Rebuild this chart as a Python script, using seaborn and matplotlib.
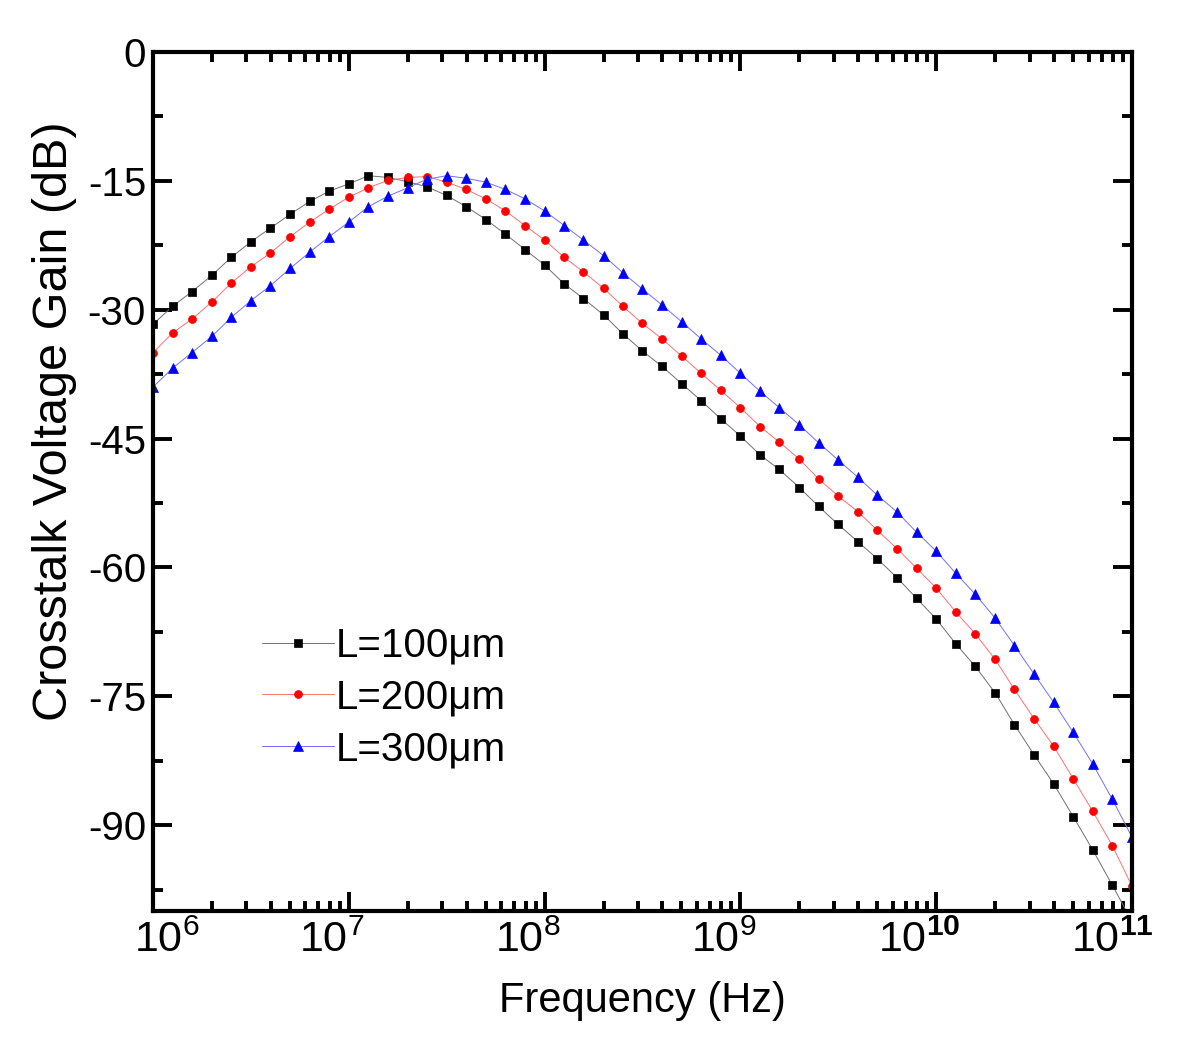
import matplotlib
matplotlib.use("Agg")
import matplotlib.pyplot as plt
import matplotlib.transforms as mtransforms
import seaborn as sns
import pandas as pd
from matplotlib.ticker import FixedLocator, FixedFormatter, LogLocator, NullFormatter, MultipleLocator

# frequency sweep, 10 points per decade
freq = [1.0e6, 1.26e6, 1.58e6, 2.0e6, 2.51e6, 3.16e6, 3.98e6, 5.01e6, 6.31e6, 7.94e6,
        1.0e7, 1.26e7, 1.58e7, 2.0e7, 2.51e7, 3.16e7, 3.98e7, 5.01e7, 6.31e7, 7.94e7,
        1.0e8, 1.26e8, 1.58e8, 2.0e8, 2.51e8, 3.16e8, 3.98e8, 5.01e8, 6.31e8, 7.94e8,
        1.0e9, 1.26e9, 1.58e9, 2.0e9, 2.51e9, 3.16e9, 3.98e9, 5.01e9, 6.31e9, 7.94e9,
        1.0e10, 1.26e10, 1.58e10, 2.0e10, 2.51e10, 3.16e10, 3.98e10, 5.01e10, 6.31e10, 7.94e10,
        1.0e11]

gain_100 = [-31.7, -29.6, -27.9, -26.0, -23.9, -22.1, -20.5, -18.9, -17.4, -16.2,
            -15.35, -14.4, -14.6, -15.1, -15.7, -16.7, -18.0, -19.5, -21.2, -23.0,
            -24.8, -27.0, -28.7, -30.6, -32.8, -34.8, -36.6, -38.6, -40.6, -42.7,
            -44.7, -46.9, -48.6, -50.7, -52.9, -55.0, -57.0, -59.0, -61.2, -63.6,
            -66.0, -68.9, -71.5, -74.6, -78.3, -81.8, -85.2, -89.0, -92.9, -97.0,
            -101.2]

gain_200 = [-35.0, -32.7, -31.1, -29.1, -26.9, -25.0, -23.4, -21.5, -19.8, -18.3,
            -16.9, -15.8, -14.95, -14.6, -14.5, -15.15, -16.0, -17.1, -18.5, -20.2,
            -21.9, -23.9, -25.6, -27.5, -29.6, -31.6, -33.4, -35.4, -37.4, -39.4,
            -41.4, -43.6, -45.4, -47.4, -49.7, -51.7, -53.5, -55.7, -57.8, -60.1,
            -62.4, -65.2, -67.7, -70.7, -74.2, -77.6, -80.8, -84.6, -88.4, -92.4,
            -97.1]

gain_300 = [-39.0, -36.8, -35.0, -33.1, -30.9, -28.95, -27.2, -25.2, -23.3, -21.5,
            -19.8, -18.0, -16.8, -15.8, -14.8, -14.4, -14.7, -15.15, -16.0, -17.1,
            -18.5, -20.2, -21.9, -23.7, -25.7, -27.6, -29.45, -31.4, -33.4, -35.3,
            -37.4, -39.5, -41.4, -43.4, -45.5, -47.5, -49.5, -51.6, -53.55, -55.9,
            -58.1, -60.7, -63.1, -65.9, -69.1, -72.4, -75.7, -79.2, -82.9, -87.0,
            -91.4]

labels = ["L=100\u03bcm", "L=200\u03bcm", "L=300\u03bcm"]
marker_colors = ["black", "red", "blue"]
line_colors = ["#707070", "#ff7070", "#7070ff"]
markers = ["s", "o", "^"]
msizes = [5.4, 5.7, 6.8]

x_ticks = [1e6, 1e7, 1e8, 1e9, 1e10, 1e11]
x_ticklabels = [r"$\mathrm{10^{6}}$", r"$\mathrm{10^{7}}$", r"$\mathrm{10^{8}}$",
                r"$\mathrm{10^{9}}$", r"$\mathrm{10^{\mathbf{10}}}$", r"$\mathrm{10^{\mathbf{11}}}$"]
y_ticks = [-90, -75, -60, -45, -30, -15, 0]

sns.set_style("ticks")
plt.rcParams["font.family"] = ["Liberation Sans", "DejaVu Sans"]
plt.rcParams["mathtext.fontset"] = "custom"
plt.rcParams["mathtext.rm"] = "Liberation Sans"
plt.rcParams["mathtext.bf"] = "Liberation Sans:bold"
plt.rcParams["mathtext.it"] = "Liberation Sans:italic"
plt.rcParams["axes.unicode_minus"] = False
for key in ["text.color", "axes.labelcolor", "xtick.color", "ytick.color", "axes.edgecolor"]:
    plt.rcParams[key] = "black"

fig = plt.figure(figsize=(12, 10.55), dpi=100)
ax = fig.add_axes([0.1275, 0.1365, 0.8158, 0.8142])

for gains, lab, mc, lc, mk, ms in zip([gain_100, gain_200, gain_300], labels,
                                      marker_colors, line_colors, markers, msizes):
    df = pd.DataFrame({"f": freq, "g": gains})
    sns.lineplot(data=df, x="f", y="g", ax=ax, color=lc, linewidth=0.7,
                 marker=mk, markersize=ms, markerfacecolor=mc, markeredgecolor=mc,
                 markeredgewidth=0.5, label=lab)

ax.set_xscale("log")
ax.set_xlim(1e6, 1e11)
ax.set_ylim(-100, 0)

ax.xaxis.set_major_locator(FixedLocator(x_ticks))
ax.xaxis.set_major_formatter(FixedFormatter(x_ticklabels))
ax.xaxis.set_minor_locator(LogLocator(base=10, subs=(2, 3, 4, 5, 6, 7, 8, 9)))
ax.xaxis.set_minor_formatter(NullFormatter())
ax.yaxis.set_major_locator(FixedLocator(y_ticks))
ax.yaxis.set_minor_locator(MultipleLocator(7.5))

for side in ["left", "right", "top", "bottom"]:
    ax.spines[side].set_linewidth(3)

ax.tick_params(which="both", direction="in", top=True, right=True)
ax.tick_params(which="major", length=14, width=2.8)
ax.tick_params(which="minor", length=7, width=2.8)
ax.tick_params(axis="y", which="major", labelsize=29, pad=5)
ax.tick_params(axis="x", which="major", labelsize=31, pad=7)

ax.set_xlabel("Frequency (Hz)", fontsize=30)
ax.set_ylabel("Crosstalk Voltage Gain (dB)", fontsize=35)
ax.xaxis.set_label_coords(0.5, -0.081)
ax.yaxis.set_label_coords(-0.078, 0.57)

leg = ax.legend(loc="upper left", bbox_to_anchor=(0.111, 0.331), frameon=False,
                fontsize=29, handlelength=1.8, handletextpad=0.05, labelspacing=0.34,
                borderpad=0, borderaxespad=0)

# shift the decade labels sideways like in the original figure
fig.canvas.draw()
x_label_shift = [10, -12, -12, -12, -12, -14]
for tl, dx in zip(ax.get_xticklabels(), x_label_shift):
    tl.set_transform(tl.get_transform() + mtransforms.ScaledTranslation(dx / 72, 0, fig.dpi_scale_trans))

fig.savefig("out.png", dpi=100)
